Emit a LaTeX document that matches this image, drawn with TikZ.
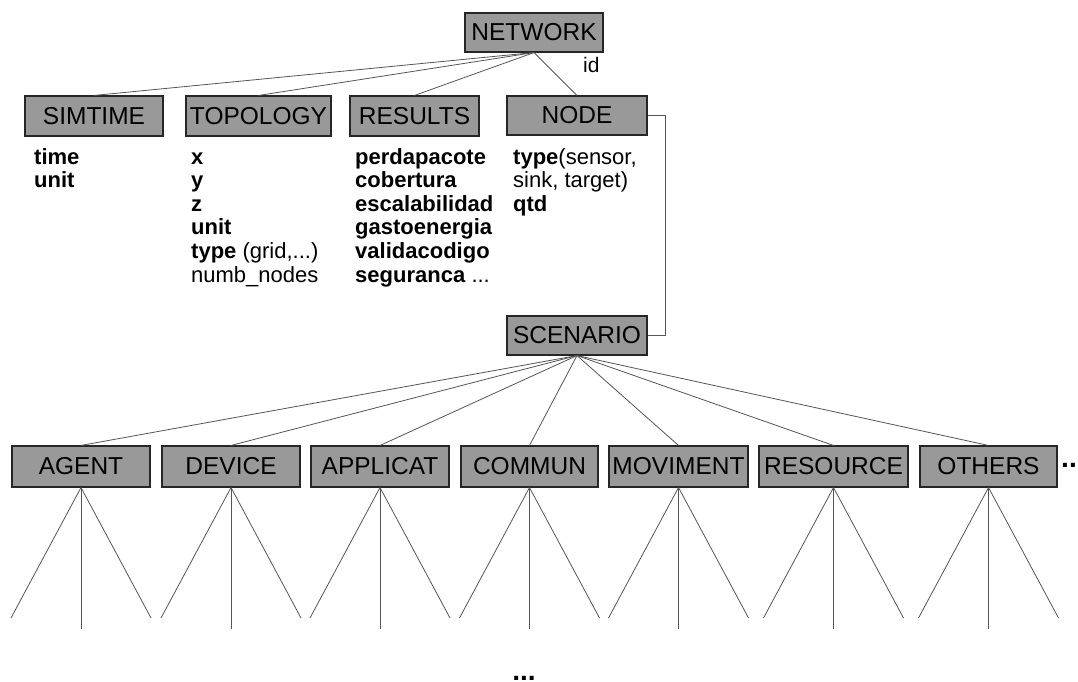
\documentclass[tikz,border=0pt]{standalone}
\usepackage{fontspec}
\setmainfont{Liberation Sans}
\definecolor{boxfill}{HTML}{999999}
\definecolor{boxline}{HTML}{262626}
\definecolor{linkgray}{HTML}{555555}
% left-aligned list whose baseline is that of its first line
\newcommand{\attrlist}[1]{\begin{tabular}[t]{@{}l@{}}#1\end{tabular}}
\begin{document}
\begin{tikzpicture}[x=1pt,y=-1pt,
  entity/.style={draw=boxline,fill=boxfill,line width=1.1pt,inner sep=0pt,
    minimum height=40pt,font=\fontsize{24.5}{26}\selectfont},
  attrs/.style={anchor=base west,inner sep=0pt,
    font=\fontsize{22}{23.6}\selectfont},
  link/.style={draw=linkgray,line width=0.8pt},
  more/.style={inner sep=0pt,font=\fontsize{28}{30}\bfseries}]
\useasboundingbox (0,0) rectangle (1078,682);

% root and first level
\node[entity,minimum width=138pt,minimum height=39pt] (network) at (534,32.5) {NETWORK};
\node[entity,minimum width=138pt] (simtime)  at (94,116)    {SIMTIME};
\node[entity,minimum width=145pt] (topology) at (258.5,116) {TOPOLOGY};
\node[entity,minimum width=129pt] (results)  at (414.5,116) {RESULTS};
\node[entity,minimum width=140pt,minimum height=39pt] (nodebox) at (577,115.5) {NODE};
\node[entity,minimum width=140pt,minimum height=39pt] (scenario) at (577,335.5) {SCENARIO};

\foreach \t in {simtime,topology,results,nodebox}
  \draw[link] (network.south) -- (\t.north);
\node[anchor=base west,inner sep=0pt,font=\fontsize{21}{24}\selectfont] (idlabel) at (583,73) {id};

\draw[link] (nodebox.east) -- ++(18,0) |- (scenario.east);

% attribute lists
\node[attrs] (simattr) at (34,164) {\attrlist{\textbf{time}\\\textbf{unit}}};
\node[attrs] (topoattr) at (191,164) {\attrlist{\textbf{x}\\\textbf{y}\\\textbf{z}\\\textbf{unit}\\
  \textbf{type} (grid,...)\\numb\_nodes}};
\node[attrs] (resattr) at (355,164) {\attrlist{\textbf{perdapacote}\\\textbf{cobertura}\\
  \textbf{escalabilidad}\\\textbf{gastoenergia}\\\textbf{validacodigo}\\\textbf{seguranca} ...}};
\node[attrs] (nodeattr) at (513,164) {\attrlist{\textbf{type}(sensor,\\sink, target)\\\textbf{qtd}}};

% second level under SCENARIO
\foreach \n/\lab/\cx/\w in {agent/AGENT/81/138, device/DEVICE/231/138,
    applicat/APPLICAT/380/138, commun/COMMUN/529.5/137,
    moviment/MOVIMENT/678.5/139, resource/RESOURCE/833.5/149,
    others/OTHERS/988.5/137} {
  \node[entity,minimum width=\w pt,minimum height=41pt] (\n) at (\cx,466.5) {\lab};
  \draw[link] (scenario.south) -- (\n.north);
  \coordinate (\n-l) at (\cx-70,618);
  \coordinate (\n-m) at (\cx,629);
  \coordinate (\n-r) at (\cx+70,618);
  \draw[link] (\n.south) -- (\n-l);
  \draw[link] (\n.south) -- (\n-m);
  \draw[link] (\n.south) -- (\n-r);
}

\node[more,anchor=base west] (moreright) at (1061,467.5) {...};
\node[more,anchor=base] (morebelow) at (524,680) {...};
\end{tikzpicture}
\end{document}
